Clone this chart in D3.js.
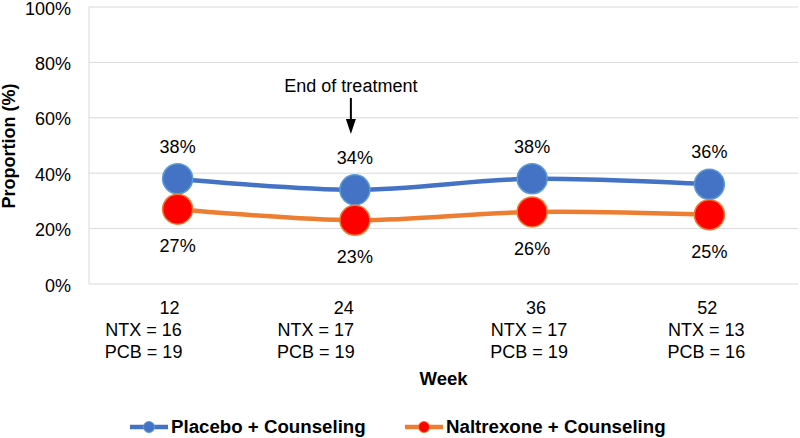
<!DOCTYPE html>
<html>
<head>
<meta charset="utf-8">
<script src="https://cdn.jsdelivr.net/npm/d3@7"></script>
<style>
  body { margin: 0; background: #fff; }
  svg { display: block; font-family: "Liberation Sans", Arial, sans-serif; }
</style>
</head>
<body>
<svg id="chart" width="800" height="438"></svg>
<script>
// ---- data ----
const weeks = ["12", "24", "36", "52"];
const ntxN = [16, 17, 17, 13];
const pcbN = [19, 19, 19, 16];
const placebo = [38, 34, 38, 36];
const naltrexone = [27, 23, 26, 25];
const yTicks = [0, 20, 40, 60, 80, 100];
const seriesNames = ["Placebo + Counseling", "Naltrexone + Counseling"];

// ---- layout ----
const svg = d3.select("#chart");
const plotLeft = 89, plotRight = 798, plotTop = 7, plotBottom = 284;
const blue = "#4472C4", blueEdge = "#5B9BD5", orange = "#ED7D31", red = "#FF0000";
// per-category shifts of label lines (first line, count lines)
const labelShift = [[-8, -34], [-11, -39], [4, -3], [-2, -3]];

const x = d3.scaleBand().domain(weeks).range([plotLeft, plotRight]);
const cx = d => x(d) + x.bandwidth() / 2;
const y = d3.scaleLinear().domain([0, 100]).range([plotBottom, plotTop]);

// gridlines
svg.append("g").selectAll("line").data(yTicks).join("line")
  .attr("x1", plotLeft).attr("x2", plotRight)
  .attr("y1", d => y(d)).attr("y2", d => y(d))
  .attr("stroke", "#D9D9D9").attr("stroke-width", 1);
// left axis line
svg.append("line").attr("x1", plotLeft).attr("x2", plotLeft).attr("y1", y(100)).attr("y2", y(0))
  .attr("stroke", "#D9D9D9").attr("stroke-width", 1);

// y tick labels
svg.append("g").selectAll("text").data(yTicks).join("text")
  .attr("x", 71).attr("y", d => y(d) + 7.5)
  .attr("text-anchor", "end").attr("font-size", 18).attr("fill", "#000")
  .text(d => d + "%");

// y axis title
svg.append("text").attr("transform", "translate(15,146) rotate(-90)")
  .attr("text-anchor", "middle").attr("font-size", 18).attr("font-weight", "bold")
  .text("Proportion (%)");

// category labels
const cat = svg.append("g");
weeks.forEach((w, i) => {
  const c = cx(w);
  cat.append("text").attr("x", c + labelShift[i][0]).attr("y", 314)
    .attr("text-anchor", "middle").attr("font-size", 18).text(w);
  cat.append("text").attr("x", c + labelShift[i][1]).attr("y", 336)
    .attr("text-anchor", "middle").attr("font-size", 18).text("NTX = " + ntxN[i]);
  cat.append("text").attr("x", c + labelShift[i][1]).attr("y", 358)
    .attr("text-anchor", "middle").attr("font-size", 18).text("PCB = " + pcbN[i]);
});

// x axis title
svg.append("text").attr("x", (plotLeft + plotRight) / 2).attr("y", 385)
  .attr("text-anchor", "middle").attr("font-size", 18.5).attr("font-weight", "bold")
  .text("Week");

// lines
const line = d3.line().x((d, i) => cx(weeks[i])).y(d => y(d)).curve(d3.curveCardinal.tension(0));
svg.append("path").datum(naltrexone).attr("d", line)
  .attr("fill", "none").attr("stroke", orange).attr("stroke-width", 4.5);
svg.append("path").datum(placebo).attr("d", line)
  .attr("fill", "none").attr("stroke", blue).attr("stroke-width", 4.5);

// markers
svg.append("g").selectAll("circle").data(placebo).join("circle")
  .attr("cx", (d, i) => cx(weeks[i])).attr("cy", d => y(d)).attr("r", 15)
  .attr("fill", blue).attr("stroke", blueEdge).attr("stroke-width", 1.5);
svg.append("g").selectAll("circle").data(naltrexone).join("circle")
  .attr("cx", (d, i) => cx(weeks[i])).attr("cy", d => y(d)).attr("r", 15)
  .attr("fill", red).attr("stroke", orange).attr("stroke-width", 1.5);

// data labels
svg.append("g").selectAll("text").data(placebo).join("text")
  .attr("x", (d, i) => cx(weeks[i])).attr("y", d => y(d) - 26)
  .attr("text-anchor", "middle").attr("font-size", 18).text(d => d + "%");
svg.append("g").selectAll("text").data(naltrexone).join("text")
  .attr("x", (d, i) => cx(weeks[i])).attr("y", d => y(d) + 43)
  .attr("text-anchor", "middle").attr("font-size", 18).text(d => d + "%");

// annotation
const ax = cx("24") - 4;
svg.append("text").attr("x", ax).attr("y", 92).attr("text-anchor", "middle")
  .attr("font-size", 18).text("End of treatment");
svg.append("line").attr("x1", ax).attr("x2", ax).attr("y1", 98).attr("y2", 122)
  .attr("stroke", "#000").attr("stroke-width", 2);
svg.append("path").attr("d", `M${ax - 5},119 L${ax + 5},119 L${ax},134 Z`).attr("fill", "#000");

// legend
const legend = [
  { name: seriesNames[0], line: blue, fill: blue, edge: blueEdge, x0: 130 },
  { name: seriesNames[1], line: orange, fill: red, edge: orange, x0: 405 }
];
legend.forEach(l => {
  const g = svg.append("g");
  g.append("line").attr("x1", l.x0).attr("x2", l.x0 + 38).attr("y1", 427).attr("y2", 427)
    .attr("stroke", l.line).attr("stroke-width", 4.5);
  g.append("circle").attr("cx", l.x0 + 19).attr("cy", 427).attr("r", 5.5)
    .attr("fill", l.fill).attr("stroke", l.edge).attr("stroke-width", 1);
  g.append("text").attr("x", l.x0 + 41).attr("y", 433).attr("font-size", 18.7)
    .attr("font-weight", "bold").text(l.name);
});
</script>
</body>
</html>
